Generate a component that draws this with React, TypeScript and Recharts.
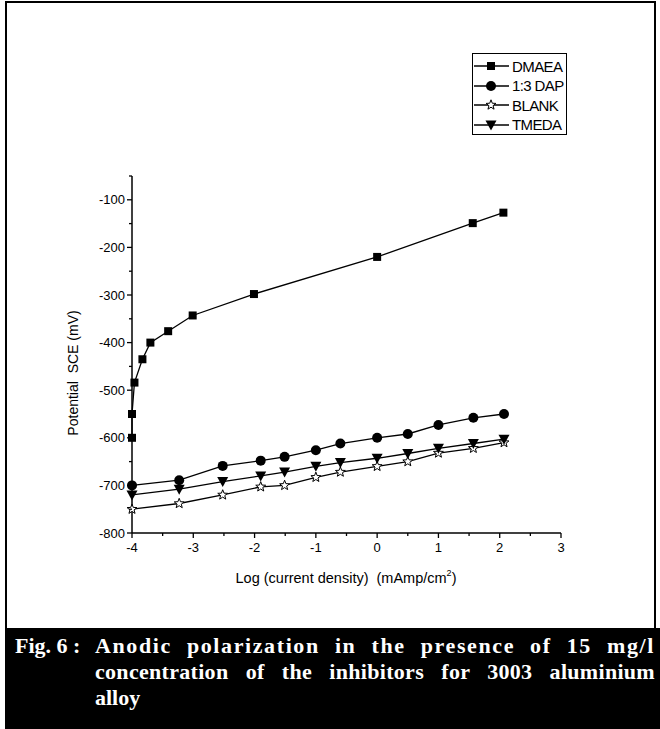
// Anodic polarization curves - 3003 aluminium alloy with inhibitors

import React from 'react';
import { Line, LineChart, XAxis, YAxis } from 'recharts';

// DMAEA has its own x positions, the other three share the same ones
const dmaeaX = [-4, -4, -3.96, -3.83, -3.7, -3.41, -3.01, -2.01, 0, 1.56, 2.06];
const dmaeaY = [-600, -550, -484, -435, -400, -376, -343, -298, -220, -149, -127];

const lowX = [-4, -3.23, -2.52, -1.9, -1.51, -1, -0.6, 0, 0.5, 1, 1.57, 2.07];
const dapY = [-700, -689, -659, -648, -640, -626, -612, -600, -592, -573, -558, -550];
const blankY = [-750, -738, -720, -703, -700, -683, -672, -660, -650, -632, -622, -610];
const tmedaY = [-720, -708, -692, -680, -672, -660, -652, -643, -633, -622, -612, -603];

const xTicks = [-4, -3.5, -3, -2.5, -2, -1.5, -1, -0.5, 0, 0.5, 1, 1.5, 2, 2.5, 3];
const yTicks = [-800, -750, -700, -650, -600, -550, -500, -450, -400, -350, -300, -250, -200, -150, -100, -50];

const FONT = '"Liberation Sans", Arial, Helvetica, sans-serif';

const zip = (xs: number[], ys: number[]) => xs.map((x, i) => ({ x, y: ys[i] }));

type MarkerKind = 'square' | 'circle' | 'star' | 'triangle';

function Marker({ kind, cx, cy }: { kind: MarkerKind; cx: number; cy: number }) {
  if (kind === 'square') {
    return <rect x={cx - 4} y={cy - 4} width={8} height={8} fill="#000" />;
  }
  if (kind === 'circle') {
    return <circle cx={cx} cy={cy} r={5} fill="#000" />;
  }
  if (kind === 'triangle') {
    return (
      <polygon
        points={`${cx - 5.5},${cy - 4.5} ${cx + 5.5},${cy - 4.5} ${cx},${cy + 5.5}`}
        fill="#000"
      />
    );
  }
  // open five point star
  const pts: string[] = [];
  for (let i = 0; i < 10; i++) {
    const r = i % 2 === 0 ? 5.2 : 2.2;
    const a = -Math.PI / 2 + (i * Math.PI) / 5;
    pts.push(`${cx + r * Math.cos(a)},${cy + r * Math.sin(a)}`);
  }
  return <polygon points={pts.join(' ')} fill="#fff" stroke="#000" strokeWidth={1} />;
}

const series: { name: string; kind: MarkerKind; data: { x: number; y: number }[] }[] = [
  { name: 'DMAEA', kind: 'square', data: zip(dmaeaX, dmaeaY) },
  { name: '1:3 DAP', kind: 'circle', data: zip(lowX, dapY) },
  { name: 'BLANK', kind: 'star', data: zip(lowX, blankY) },
  { name: 'TMEDA', kind: 'triangle', data: zip(lowX, tmedaY) },
];

function XTick(props: any) {
  const { x, y, payload } = props;
  const major = Number.isInteger(payload.value);
  return (
    <g>
      <line x1={x} x2={x} y1={y} y2={y + (major ? 5 : 3)} stroke="#000" strokeWidth={1.3} />
      {major && (
        <text x={x} y={y + 19} textAnchor="middle" fontSize={13} fontFamily={FONT} fill="#000">
          {payload.value}
        </text>
      )}
    </g>
  );
}

function YTick(props: any) {
  const { x, y, payload } = props;
  const major = payload.value % 100 === 0;
  return (
    <g>
      <line x1={x} x2={x - (major ? 5 : 3)} y1={y} y2={y} stroke="#000" strokeWidth={1.3} />
      {major && (
        <text x={x - 7} y={y + 4.5} textAnchor="end" fontSize={13} fontFamily={FONT} fill="#000">
          {payload.value}
        </text>
      )}
    </g>
  );
}

function LegendBox() {
  return (
    <div
      style={{
        position: 'absolute',
        left: 472,
        top: 53,
        width: 95,
        height: 82,
        border: '1px solid #000',
        background: '#fff',
        fontFamily: FONT,
        fontSize: 15,
        letterSpacing: -0.6,
        color: '#000',
        boxSizing: 'border-box',
      }}
    >
      {series.map((s, i) => (
        <div
          key={s.name}
          style={{ position: 'absolute', left: 0, top: 2 + i * 19.6, height: 20, display: 'flex', alignItems: 'center' }}
        >
          <svg width={38} height={20}>
            <line x1={1} x2={36} y1={10} y2={10} stroke="#000" strokeWidth={1.3} />
            <Marker kind={s.kind} cx={18} cy={10} />
          </svg>
          <span style={{ marginLeft: 1, whiteSpace: 'nowrap' }}>{s.name}</span>
        </div>
      ))}
    </div>
  );
}

export default function App() {
  return (
    <div
      style={{
        position: 'absolute',
        left: 0,
        top: 0,
        width: 660,
        height: 729,
        background: '#fff',
        overflow: 'hidden',
      }}
    >
      {/* outer frame */}
      <div
        style={{
          position: 'absolute',
          left: 5,
          top: 1,
          width: 651,
          height: 640,
          border: '2px solid #000',
          boxSizing: 'border-box',
        }}
      />

      <LineChart
        width={660}
        height={729}
        margin={{ top: 176, right: 99, bottom: 146, left: 72 }}
        style={{ position: 'absolute', left: 0, top: 0 }}
      >
        <XAxis
          type="number"
          dataKey="x"
          domain={[-4, 3]}
          ticks={xTicks}
          interval={0}
          height={50}
          tickSize={0}
          tickMargin={0}
          tickLine={false}
          tick={<XTick />}
          axisLine={{ stroke: '#000', strokeWidth: 1.5 }}
          allowDuplicatedCategory={false}
          label={{
            content: () => (
              <text x={346} y={583} textAnchor="middle" fontSize={14.5} fontFamily={FONT} fill="#000">
                Log (current density)
                <tspan dx={8}>(mAmp/cm</tspan>
                <tspan fontSize={9} dy={-7}>2</tspan>
                <tspan dy={7}>)</tspan>
              </text>
            ),
          }}
        />
        <YAxis
          type="number"
          dataKey="y"
          domain={[-800, -50]}
          ticks={yTicks}
          interval={0}
          width={60}
          tickSize={0}
          tickMargin={0}
          tickLine={false}
          tick={<YTick />}
          axisLine={{ stroke: '#000', strokeWidth: 1.5 }}
          label={{
            content: () => (
              <text
                transform="translate(78,373) rotate(-90)"
                textAnchor="middle"
                fontSize={14}
                fontFamily={FONT}
                fill="#000"
              >
                {'Potential\u00a0 SCE (mV)'}
              </text>
            ),
          }}
        />
        {series.map((s) => (
          <Line
            key={s.name}
            data={s.data}
            dataKey="y"
            name={s.name}
            type="linear"
            stroke="#000"
            strokeWidth={1.3}
            isAnimationActive={false}
            dot={(p: any) => <Marker key={`${s.name}-${p.index}`} kind={s.kind} cx={p.cx} cy={p.cy} />}
            activeDot={false}
          />
        ))}
      </LineChart>

      <LegendBox />

      {/* figure caption band */}
      <div
        style={{
          position: 'absolute',
          left: 5,
          top: 628,
          width: 655,
          height: 101,
          background: '#000',
          color: '#fff',
          fontFamily: '"Liberation Serif", "Times New Roman", serif',
          fontWeight: 'bold',
          fontSize: 22,
          lineHeight: '26px',
          display: 'flex',
          paddingTop: 5,
          boxSizing: 'border-box',
        }}
      >
        <div style={{ width: 80, paddingLeft: 10, whiteSpace: 'nowrap', letterSpacing: 0 }}>Fig. 6 :</div>
        <div style={{ width: 560 }}>
          <div style={{ textAlign: 'justify', textAlignLast: 'justify', letterSpacing: 1.6 }}>
            Anodic polarization in the presence of 15 mg/l
          </div>
          <div style={{ textAlign: 'justify', textAlignLast: 'justify', letterSpacing: 0.3 }}>
            concentration of the inhibitors for 3003 aluminium
          </div>
          <div>alloy</div>
        </div>
      </div>
    </div>
  );
}
